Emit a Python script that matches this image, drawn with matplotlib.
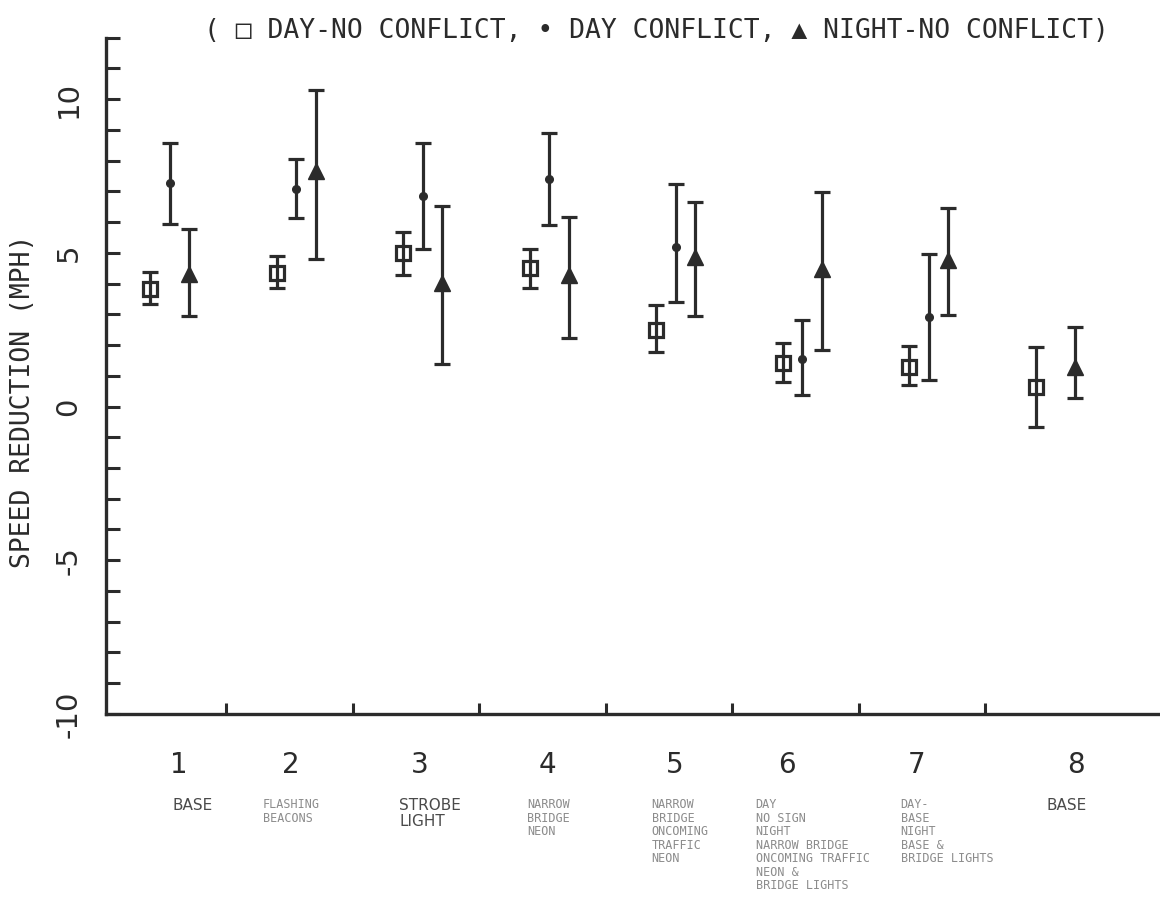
"""
Speed reduction by treatment, day / night, with and without conflict.
"""

from matplotlib import pyplot as plt
from matplotlib import font_manager
from matplotlib.ticker import MultipleLocator, NullFormatter

# treatment groups
groups = [1, 2, 3, 4, 5, 6, 7, 8]
group_names = [
    "BASE",
    "FLASHING\nBEACONS",
    "STROBE\nLIGHT",
    "NARROW\nBRIDGE\nNEON",
    "NARROW\nBRIDGE\nONCOMING\nTRAFFIC\nNEON",
    "DAY\nNO SIGN\nNIGHT\nNARROW BRIDGE\nONCOMING TRAFFIC\nNEON &\nBRIDGE LIGHTS",
    "DAY-\nBASE\nNIGHT\nBASE &\nBRIDGE LIGHTS",
    "BASE",
]

# day - no conflict (mean, lower, upper)
day_nc = [3.83, 4.36, 4.99, 4.50, 2.50, 1.41, 1.30, 0.63]
day_nc_lo = [3.33, 3.85, 4.28, 3.85, 1.77, 0.81, 0.71, -0.67]
day_nc_hi = [4.39, 4.90, 5.67, 5.13, 3.31, 2.06, 1.97, 1.95]

# day - conflict (no run for group 8)
day_c_groups = [1, 2, 3, 4, 5, 6, 7]
day_c = [7.27, 7.07, 6.86, 7.41, 5.20, 1.55, 2.90]
day_c_lo = [5.94, 6.12, 5.13, 5.92, 3.40, 0.36, 0.87]
day_c_hi = [8.59, 8.07, 8.59, 8.89, 7.23, 2.82, 4.96]

# night - no conflict
night_nc = [4.30, 7.65, 4.01, 4.28, 4.88, 4.47, 4.77, 1.30]
night_nc_lo = [2.95, 4.81, 1.38, 2.22, 2.95, 1.83, 2.97, 0.27]
night_nc_hi = [5.78, 10.30, 6.53, 6.16, 6.65, 6.97, 6.47, 2.58]

INK = "#2b2b2b"


def pick_font(*names):
    for name in names:
        try:
            font_manager.findfont(name, fallback_to_default=False)
            return name
        except ValueError:
            pass
    return "DejaVu Sans"


MONO = ["DejaVu Sans Mono", "DejaVu Sans"]
NARROW = [pick_font("Liberation Sans Narrow", "DejaVu Sans"), "DejaVu Sans"]


def err(mean, lo, hi):
    return [[m - l for m, l in zip(mean, lo)], [h - m for m, h in zip(mean, hi)]]


def main():
    plt.rcParams["axes.unicode_minus"] = False

    fig = plt.figure(figsize=(11.6, 8.98), dpi=100)
    ax = fig.add_axes([0.0914, 0.205, 0.9086, 0.753])

    common = dict(ecolor=INK, elinewidth=2.3, capsize=5.5, capthick=2.3,
                  linestyle="none", zorder=3)
    ax.errorbar([g - 0.10 for g in groups], day_nc, yerr=err(day_nc, day_nc_lo, day_nc_hi),
                marker="s", ms=9.5, mfc="none", mec=INK, mew=2.3, **common)
    ax.errorbar([g + 0.055 for g in day_c_groups], day_c, yerr=err(day_c, day_c_lo, day_c_hi),
                marker="o", ms=5.5, mfc=INK, mec=INK, **common)
    ax.errorbar([g + 0.21 for g in groups], night_nc, yerr=err(night_nc, night_nc_lo, night_nc_hi),
                marker="^", ms=11, mfc=INK, mec=INK, **common)

    ax.set_xlim(0.551, 8.883)
    ax.set_ylim(-10, 12)

    for side in ("top", "right"):
        ax.spines[side].set_visible(False)
    for side in ("left", "bottom"):
        ax.spines[side].set_linewidth(2.4)
        ax.spines[side].set_color(INK)

    # y axis: a tick every mph, labels every 5
    ax.yaxis.set_major_locator(MultipleLocator(5))
    ax.yaxis.set_minor_locator(MultipleLocator(1))
    ax.yaxis.set_minor_formatter(NullFormatter())
    ax.tick_params(axis="y", which="both", direction="in", length=10, width=2.2,
                   color=INK, pad=17)
    for lbl in ax.get_yticklabels():
        lbl.set_rotation(90)
        lbl.set_va("center")
        lbl.set_fontfamily(NARROW)
        lbl.set_fontsize(21)
        lbl.set_color(INK)

    # x axis: separators between groups, numbers under each group
    ax.set_xticks([g + 0.5 for g in groups[:-1]])
    ax.set_xticklabels([])
    ax.tick_params(axis="x", which="major", direction="in", length=8, width=2.2, color=INK)
    num_x = [1.13, 2.01, 3.03, 4.04, 5.05, 5.93, 6.96, 8.22]
    ax.set_xticks(num_x, [str(g) for g in groups], minor=True)
    ax.tick_params(axis="x", which="minor", length=0, pad=27, labelsize=20,
                   labelcolor=INK)
    for lbl in ax.get_xticklabels(minor=True):
        lbl.set_fontfamily(NARROW)

    # treatment descriptions
    name_x = [1.073, 1.792, 2.868, 3.879, 4.865, 5.687, 6.833, 7.988]
    for i, name in enumerate(group_names):
        if name in ("BASE", "STROBE\nLIGHT"):
            ax.text(name_x[i], -12.75, name, va="top", ha="left", fontsize=11,
                    family=NARROW, color="#4a4a4a", linespacing=1.05, clip_on=False)
        else:
            ax.text(name_x[i], -12.75, name, va="top", ha="left", fontsize=8.5,
                    family=MONO, color="#8c8c8c", linespacing=1.05, clip_on=False)

    ax.set_ylabel("SPEED REDUCTION (MPH)", fontsize=19, family=MONO, color=INK, va="center")
    ax.yaxis.set_label_coords(-0.0787, 0.463)

    fig.text(0.566, 0.966, "( \u25a1 DAY-NO CONFLICT, \u2022 DAY CONFLICT, \u25b2 NIGHT-NO CONFLICT)",
             ha="center", va="center", fontsize=19, family=MONO, color=INK)

    fig.savefig("out.png", dpi=100)


if __name__ == "__main__":
    main()
